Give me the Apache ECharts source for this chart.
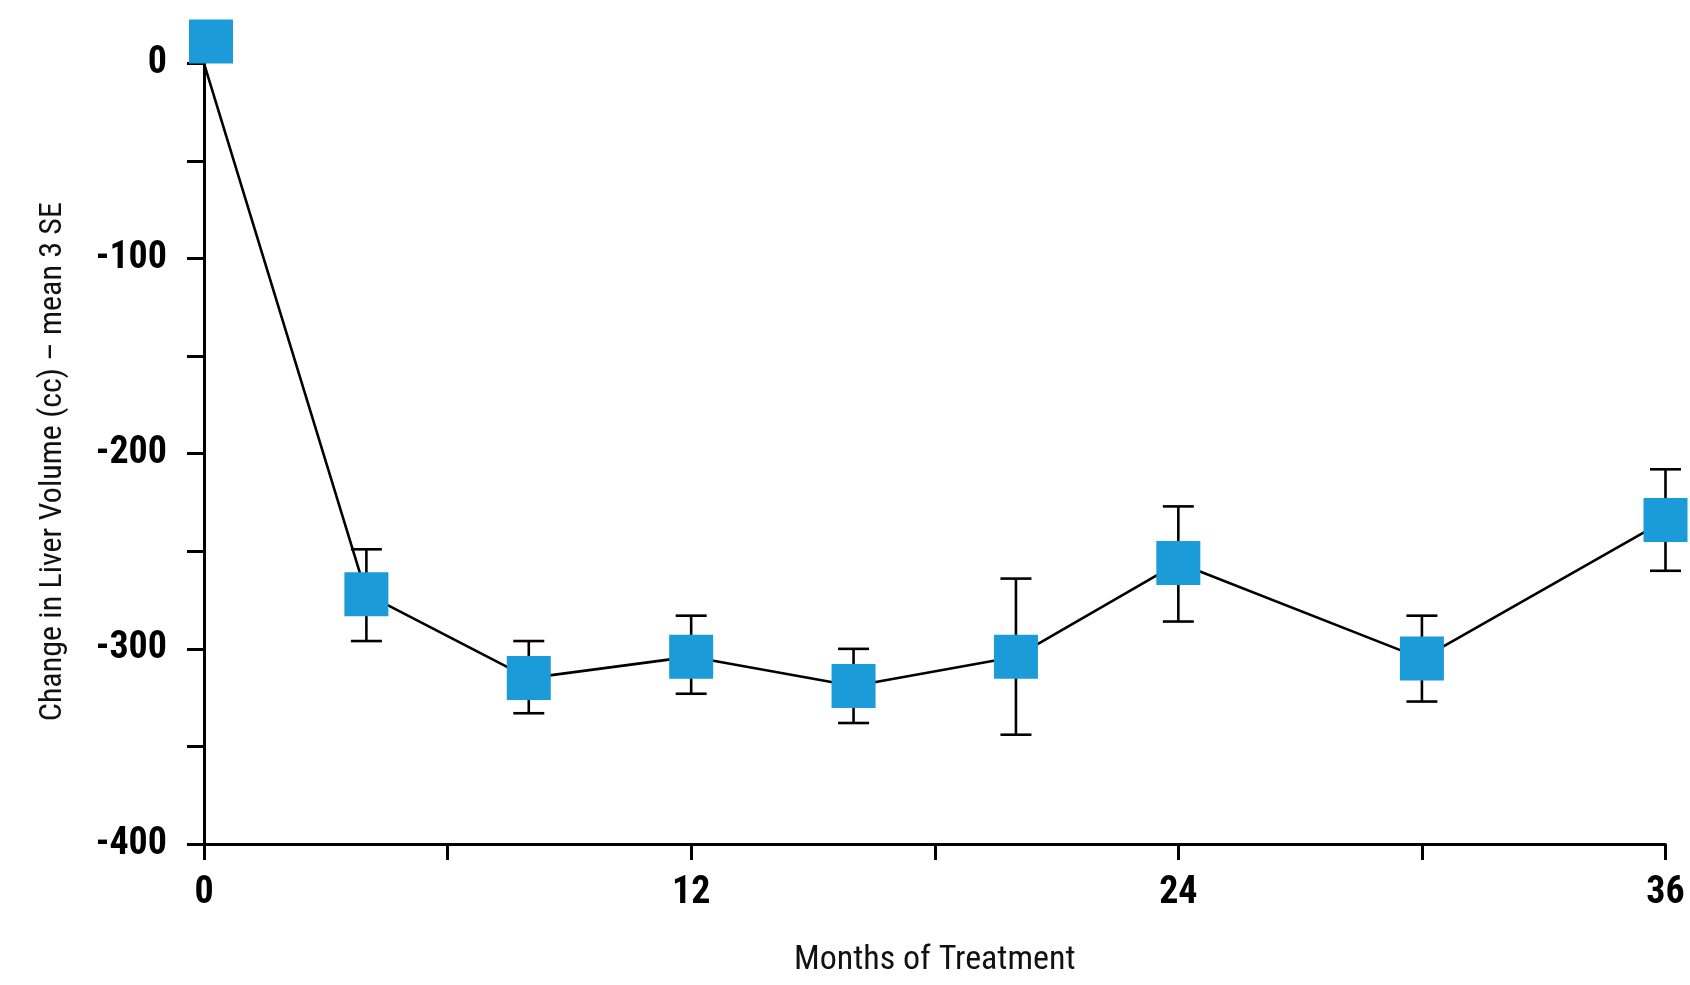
<!DOCTYPE html>
<html>
<head>
<meta charset="utf-8">
<script src="https://cdn.jsdelivr.net/npm/echarts@6/dist/echarts.min.js"></script>
<style>
  html, body { margin: 0; padding: 0; background: #ffffff; }
  #chart { width: 1690px; height: 985px; }
</style>
</head>
<body>
<div id="chart"></div>
<script>
// Months of treatment at each visit
const months = [0, 4, 8, 12, 16, 20, 24, 30, 36];
// Mean change in liver volume (cc)
const meanChange = [0, -272, -315, -304, -319, -304, -256, -305, -234];
// Upper and lower ends of the standard-error bars (cc); baseline has none
const seUpper = [null, -249, -296, -283, -300, -264, -227, -283, -208];
const seLower = [null, -296, -333, -323, -338, -344, -286, -327, -260];

const monthLabels = [0, 12, 24, 36];
const volumeLabels = [0, -100, -200, -300, -400];

const condensedFont = '"Roboto Condensed", "Open Sans Condensed", sans-serif';
const markerColor = '#1b9bd7';

const lineData = months.map((m, i) => {
  const item = { value: [m, meanChange[i]] };
  if (i === 0) item.symbolOffset = [7, -22];
  return item;
});

const errorData = [];
months.forEach((m, i) => {
  if (seUpper[i] !== null) errorData.push([m, seLower[i], seUpper[i]]);
});

const chart = echarts.init(document.getElementById('chart'), null, { renderer: 'canvas' });

chart.setOption({
  animation: false,
  backgroundColor: '#ffffff',
  grid: { left: 204, right: 24.5, top: 63.4, bottom: 141, containLabel: false },
  xAxis: {
    type: 'value',
    min: 0,
    max: 36,
    interval: 6,
    name: 'Months of Treatment',
    nameLocation: 'middle',
    nameGap: 99,
    nameTextStyle: { fontFamily: condensedFont, fontSize: 34, color: '#111' },
    axisLine: { show: true, onZero: false, lineStyle: { color: '#000', width: 3 } },
    axisTick: { show: true, inside: false, length: 16, lineStyle: { color: '#000', width: 3 } },
    axisLabel: {
      margin: 30,
      fontFamily: condensedFont,
      fontWeight: 'bold',
      fontSize: 38,
      color: '#000',
      formatter: v => (monthLabels.indexOf(v) >= 0 ? String(v) : '')
    },
    splitLine: { show: false }
  },
  yAxis: {
    type: 'value',
    min: -400,
    max: 0,
    interval: 50,
    name: 'Change in Liver Volume (cc) – mean 3 SE',
    nameLocation: 'middle',
    nameRotate: 90,
    nameGap: 135,
    nameTextStyle: { fontFamily: condensedFont, fontSize: 32, color: '#111', padding: [0, 16, 0, 0] },
    axisLine: { show: true, onZero: false, lineStyle: { color: '#000', width: 3 } },
    axisTick: { show: true, inside: false, length: 17, lineStyle: { color: '#000', width: 3 } },
    axisLabel: {
      margin: 37,
      fontFamily: condensedFont,
      fontWeight: 'bold',
      fontSize: 38,
      color: '#000',
      formatter: v => (volumeLabels.indexOf(v) >= 0 ? String(v) : '')
    },
    splitLine: { show: false }
  },
  series: [
    {
      type: 'custom',
      name: 'SE',
      z: 1,
      clip: false,
      data: errorData,
      renderItem: function (params, api) {
        const x = api.value(0);
        const lo = api.coord([x, api.value(1)]);
        const hi = api.coord([x, api.value(2)]);
        const cap = 15.5;
        const style = { stroke: '#000', lineWidth: 2.6, fill: null };
        return {
          type: 'group',
          children: [
            { type: 'line', shape: { x1: hi[0], y1: hi[1], x2: lo[0], y2: lo[1] }, style },
            { type: 'line', shape: { x1: hi[0] - cap, y1: hi[1], x2: hi[0] + cap, y2: hi[1] }, style },
            { type: 'line', shape: { x1: lo[0] - cap, y1: lo[1], x2: lo[0] + cap, y2: lo[1] }, style }
          ]
        };
      }
    },
    {
      type: 'line',
      name: 'Mean change',
      z: 3,
      clip: false,
      data: lineData,
      symbol: 'rect',
      symbolSize: 44,
      showAllSymbol: true,
      lineStyle: { color: '#000', width: 2.6 },
      itemStyle: { color: markerColor, borderWidth: 0 }
    }
  ]
});
</script>
</body>
</html>
